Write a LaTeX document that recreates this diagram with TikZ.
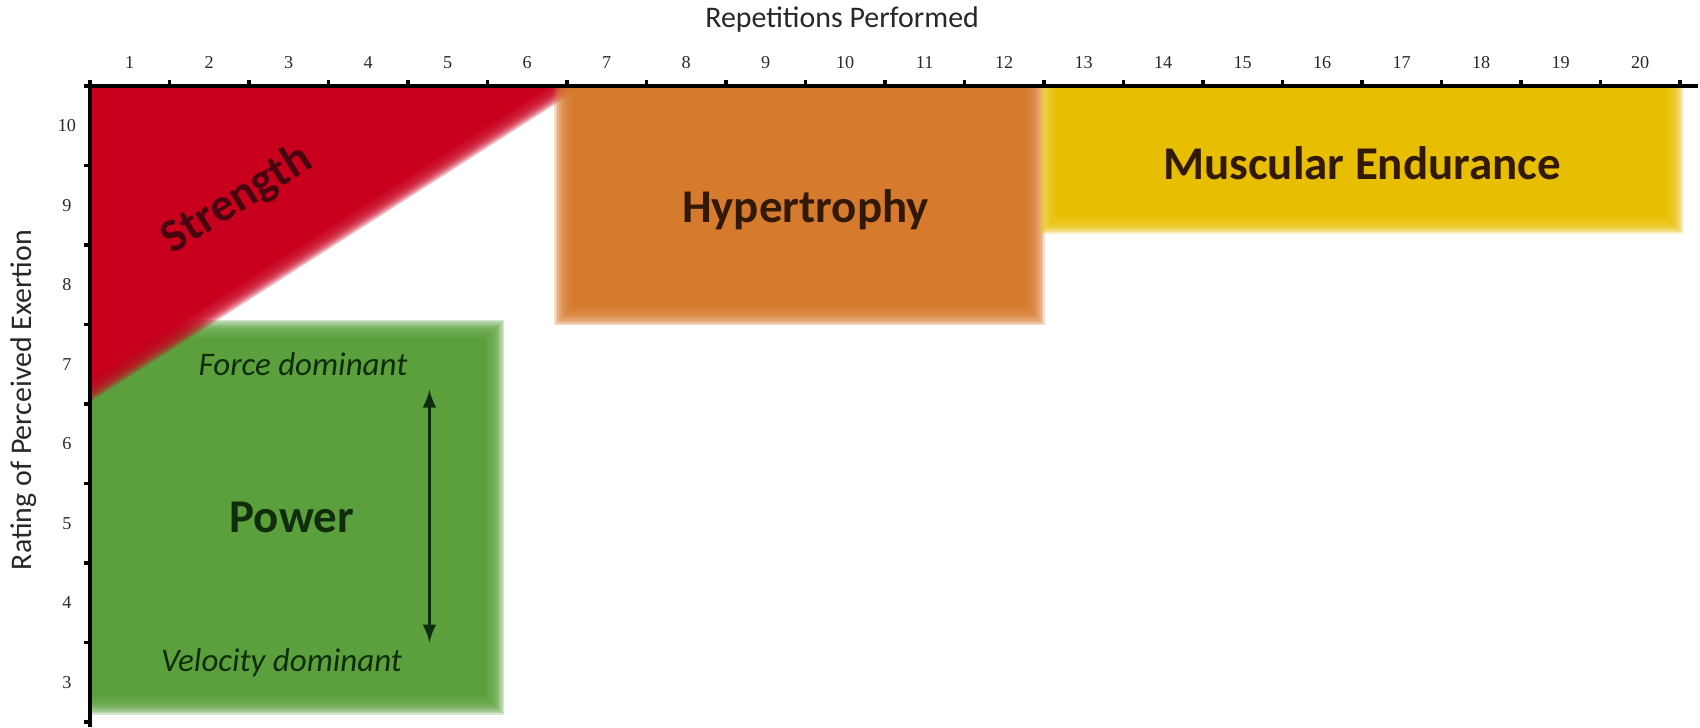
\documentclass[tikz,border=0pt]{standalone}
\usepackage{fontspec}
\setmainfont{Carlito}
\newfontfamily\tickfont{Liberation Serif}
\usepackage{tikz}
\usetikzlibrary{arrows}
\pgfdeclarelayer{background}
\pgfsetlayers{background,main}
\definecolor{strengthred}{RGB}{200,0,30}
\definecolor{hyperorange}{RGB}{214,122,46}
\definecolor{enduryellow}{RGB}{232,190,0}
\definecolor{powergreen}{RGB}{92,160,62}
\definecolor{strengthtext}{RGB}{70,5,15}
\definecolor{zonetext}{RGB}{50,25,5}
\definecolor{powertext}{RGB}{15,45,10}
\definecolor{axisgrey}{RGB}{40,40,40}
\tikzset{zonelabel/.style={font=\bfseries\fontsize{16.8}{20}\selectfont},
  dominance/.style={font=\itshape\fontsize{11.8}{14}\selectfont,text=powertext},
  axistitle/.style={font=\fontsize{10.7}{13}\selectfont,text=axisgrey},
  ticklabel/.style={font=\tickfont\fontsize{6.5}{8}\selectfont,text=axisgrey}}
% soft edged box: colour, x1, y1, x2, y2
\newcommand{\Zone}[5]{%
  \fill[#1] ({#2+0.17},{#3+0.17}) rectangle ({#4-0.17},{#5-0.17});
  \foreach \e in {-0.16,-0.14,...,0.07}
    \fill[#1,opacity=0.25] ({#2-\e},{#3-\e}) rectangle ({#4+\e},{#5+\e});}

\begin{document}
\begin{tikzpicture}[semithick,>=latex]
         \useasboundingbox (-1.132,2.437) rectangle (20.252,11.582);

         % axes
         \draw [line width=1.4pt] (0,2.437)--(0,10.5)--(20.23,10.5);
         \foreach \k in {0,...,20}
           \draw [line width=1.4pt] (\k,10.5)--(\k,10.58);
         \foreach \k in {1,...,20}
           \node [ticklabel] (rep\k) at (\k-0.5,10.79) {\k};
         \foreach \k in {2.5,3.5,...,10.5}
           \draw [line width=1.4pt] (0,\k)--(-0.08,\k);
         \foreach \k in {3,...,10}
           \node [ticklabel] (rpe\k) at (-0.29,\k) {\k};
         \node [axistitle] (xtitle) at (9.46,11.34) {Repetitions Performed};
         \node [axistitle,rotate=90] (ytitle) at (-0.84,6.55) {Rating of Perceived Exertion};

         % zones
         \begin{pgfonlayer}{background}
           \begin{scope}
             \clip (0,2.3) rectangle (20.4,10.5);
             \Zone{powergreen}{-0.5}{2.65}{5.15}{7.5}
             \fill [strengthred,shift={(-0.092,0.143)}] (-1,11)--(6.88,11)--(-1,5.96)--cycle;
             \foreach \e in {-0.16,-0.14,...,0.07}
               \fill [strengthred,opacity=0.25,shift={({0.539*\e},{-0.843*\e})}] (-1,11)--(6.88,11)--(-1,5.96)--cycle;
             \Zone{hyperorange}{5.9}{7.55}{11.95}{10.8}
             \Zone{enduryellow}{12.0}{8.7}{19.98}{10.8}
           \end{scope}
         \end{pgfonlayer}

         \node [zonelabel,rotate=32,text=strengthtext] (strength) at (1.85,9.07) {Strength};
         \node [zonelabel,text=zonetext] (hypertrophy) at (9.0,8.95) {Hypertrophy};
         \node [zonelabel,text=zonetext] (endurance) at (16.0,9.53) {Muscular Endurance};
         \node [zonelabel,text=powertext] (power) at (2.54,5.07) {Power};
         \node [dominance] (force) at (2.68,7.0) {Force dominant};
         \node [dominance] (velocity) at (2.41,3.25) {Velocity dominant};

         \coordinate (forceend) at (4.27,6.68);
         \coordinate (velocityend) at (4.27,3.5);
         \draw [<->,line width=1.2pt,draw=powertext] (forceend)--(velocityend);
\end{tikzpicture}
\end{document}
